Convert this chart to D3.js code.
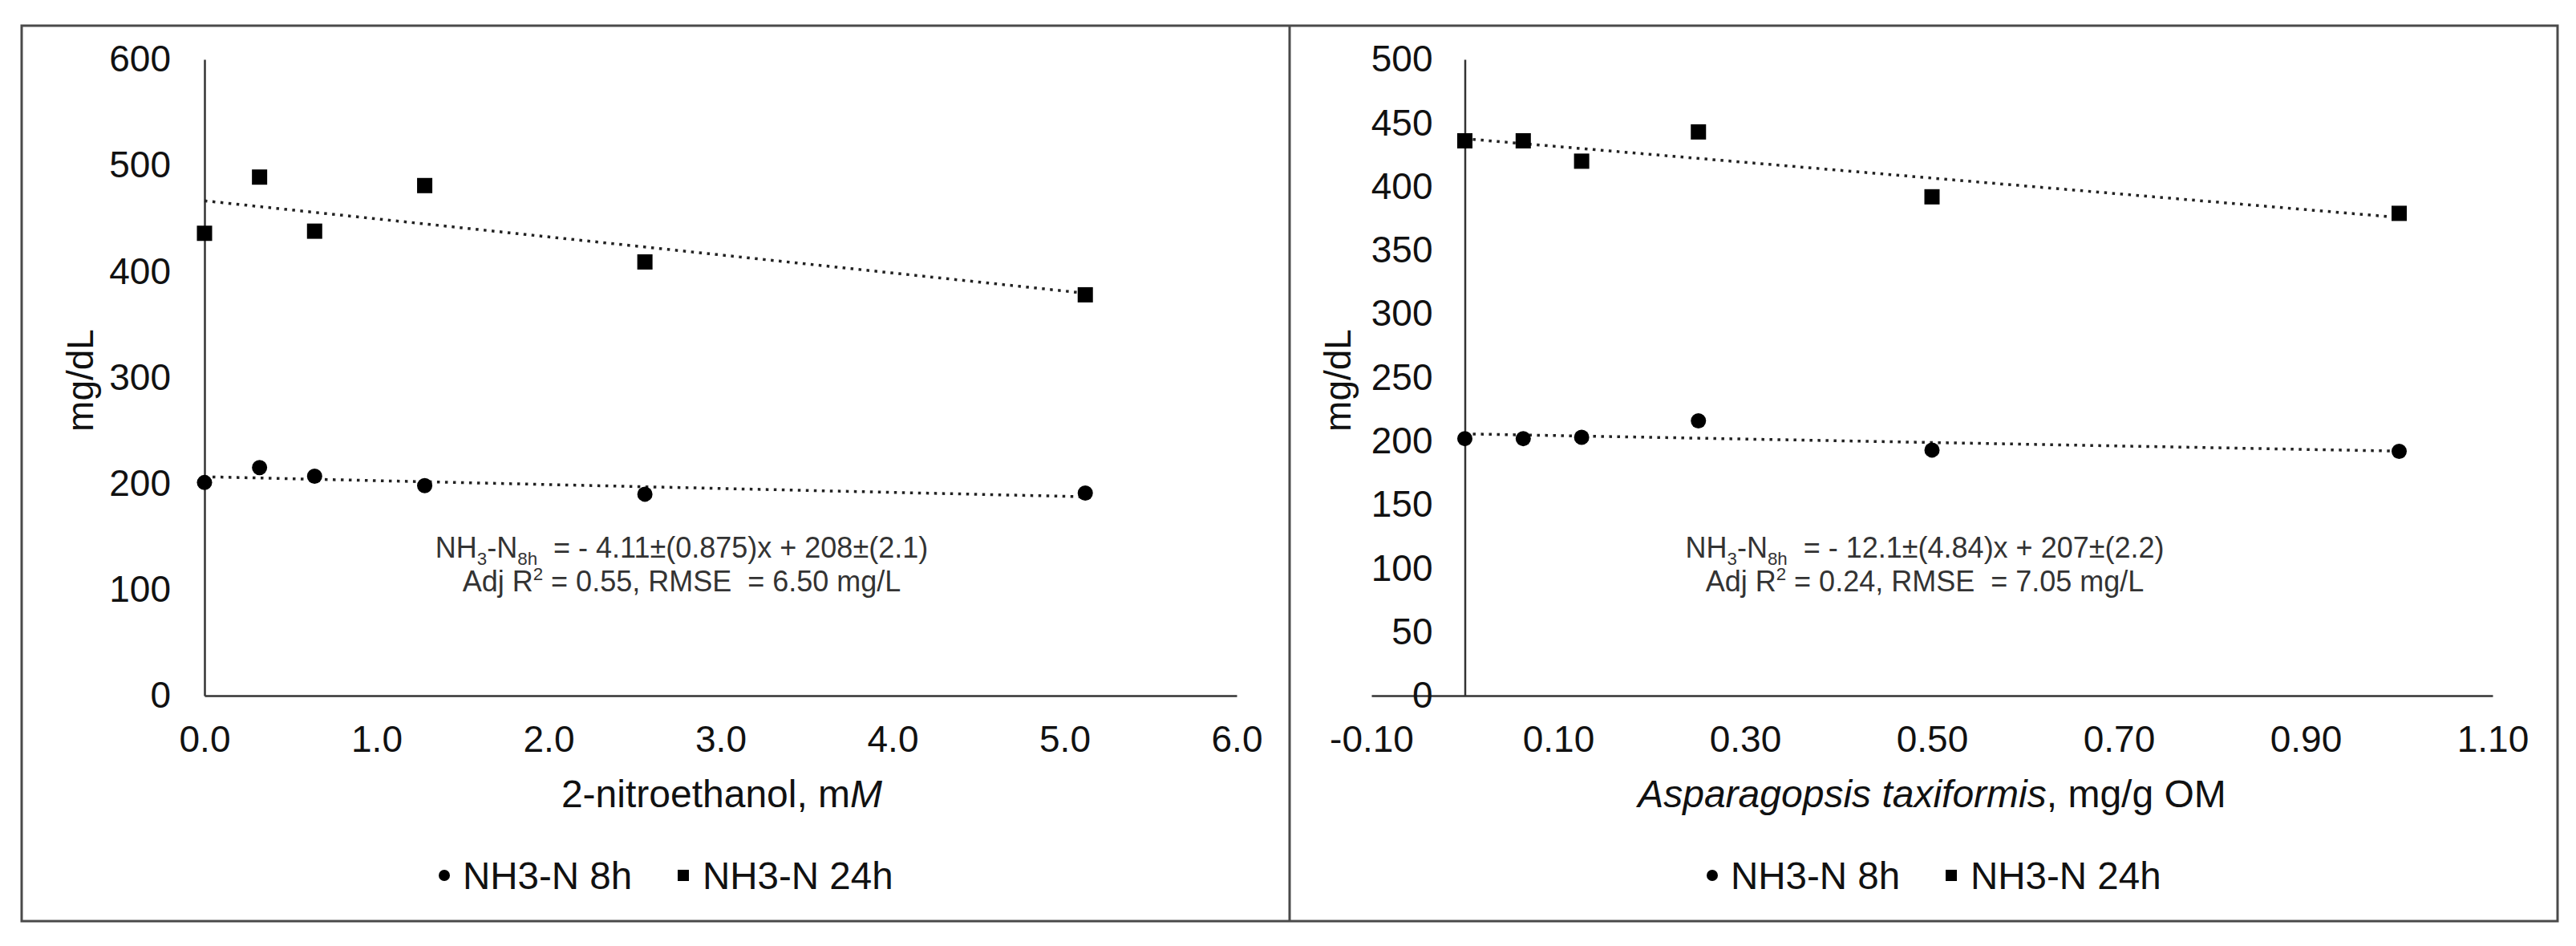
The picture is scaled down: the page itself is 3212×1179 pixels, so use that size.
<!DOCTYPE html>
<html>
<head>
<meta charset="utf-8">
<script src="https://cdn.jsdelivr.net/npm/d3@7"></script>
<style>
  body { margin: 0; background: #fff; }
  text { font-family: "Liberation Sans", Arial, sans-serif; fill: #111; white-space: pre; }
</style>
</head>
<body>
<svg id="chart" width="3212" height="1179"></svg>
<script>
// ---- data ----
// left panel: 2-nitroethanol
const nitroDose = [0, 0.32, 0.64, 1.28, 2.56, 5.12]
const nitro8h = [201, 215, 207, 198, 190, 191]
const nitro24h = [436, 489, 438, 481, 409, 378]
const nitroTicksX = [0, 1, 2, 3, 4, 5, 6]
const nitroTicksY = [0, 100, 200, 300, 400, 500, 600]

// right panel: Asparagopsis taxiformis
const asparaDose = [0, 0.0625, 0.125, 0.25, 0.5, 1.0]
const aspara8h = [202, 202, 203, 216, 193, 192]
const aspara24h = [436, 436, 420, 443, 392, 379]
const asparaTicksX = [-0.1, 0.1, 0.3, 0.5, 0.7, 0.9, 1.1]
const asparaTicksY = [0, 50, 100, 150, 200, 250, 300, 350, 400, 450, 500]

const seriesNames = ["NH3-N 8h", "NH3-N 24h"]
const yTitle = "mg/dL"

const nitroEq = [["NH", ""], ["3", "sub"], ["-N", ""], ["8h", "sub"], ["  = - 4.11±(0.875)x + 208±(2.1)", ""]]
const nitroFit = [["Adj R", ""], ["2", "sup"], [" = 0.55, RMSE  = 6.50 mg/L", ""]]
const asparaEq = [["NH", ""], ["3", "sub"], ["-N", ""], ["8h", "sub"], ["  = - 12.1±(4.84)x + 207±(2.2)", ""]]
const asparaFit = [["Adj R", ""], ["2", "sup"], [" = 0.24, RMSE  = 7.05 mg/L", ""]]

// plain hyphen for negatives, like the spreadsheet labels
const locale = d3.formatLocale({decimal: ".", thousands: ",", grouping: [3], currency: ["", ""], minus: "-"})

const svg = d3.select("#chart")

// outer frames
svg.append("rect")
    .attr("x", 27).attr("y", 32)
    .attr("width", 3189 - 27).attr("height", 1148 - 32)
    .attr("fill", "none").attr("stroke", "#4a4a4a").attr("stroke-width", 3)
svg.append("line")
    .attr("x1", 1608).attr("x2", 1608).attr("y1", 32).attr("y2", 1148)
    .attr("stroke", "#4a4a4a").attr("stroke-width", 3)

function linreg(xs, ys) {
    let mx = d3.mean(xs), my = d3.mean(ys)
    let sxy = d3.sum(xs, (x, i) => (x - mx) * (ys[i] - my))
    let sxx = d3.sum(xs, x => (x - mx) * (x - mx))
    let b = sxy / sxx
    return [my - b * mx, b]
}

function writeRich(g, parts, x, y, size) {
    let t = g.append("text")
        .attr("x", x).attr("y", y)
        .attr("text-anchor", "middle")
        .style("font-size", size + "px")
        .style("fill", "#333")
    parts.forEach((p, i) => {
        let s = t.append("tspan").text(p[0])
        let prev = i > 0 ? parts[i - 1][1] : ""
        let dy = 0
        if (prev == "sub") dy -= 9
        if (prev == "sup") dy += 14
        if (p[1] == "sub") { dy += 9; s.style("font-size", (size * 0.62) + "px") }
        if (p[1] == "sup") { dy -= 14; s.style("font-size", (size * 0.62) + "px") }
        s.attr("dy", dy)
    })
}

function drawPanel(cfg) {
    let g = svg.append("g")
    let x = d3.scaleLinear().domain(cfg.xDomain).range(cfg.xRange)
    let y = d3.scaleLinear().domain(cfg.yDomain).range([867, 74])

    // x axis
    g.append("g")
        .attr("transform", "translate(0,867)")
        .call(d3.axisBottom(x).tickValues(cfg.ticksX).tickFormat(locale.format(cfg.fmtX))
            .tickSize(0).tickSizeOuter(0).tickPadding(37))
    // y axis sits on x = 0
    g.append("g")
        .attr("transform", "translate(" + x(0) + ",0)")
        .call(d3.axisLeft(y).tickValues(cfg.ticksY)
            .tickSize(0).tickSizeOuter(0).tickPadding(cfg.yPad))
    g.selectAll(".domain").attr("stroke", "#333").attr("stroke-width", 2.5)
    g.selectAll(".tick text")
        .style("font-family", "'Liberation Sans', Arial, sans-serif")
        .style("font-size", "46px")
        .attr("fill", "#111")

    // axis titles
    let xt = g.append("text")
        .attr("x", cfg.xTitleX).attr("y", 1006)
        .attr("text-anchor", "middle")
        .style("font-size", "48px")
    cfg.xTitle.forEach(p => {
        xt.append("tspan").text(p[0]).style("font-style", p[1] ? "italic" : "normal")
    })
    g.append("text")
        .attr("transform", "translate(" + cfg.yTitleX + ",474) rotate(-90)")
        .attr("text-anchor", "middle")
        .style("font-size", "46px")
        .text(yTitle)

    // trendlines, fitted to the points
    let line = d3.line().x(d => x(d[0])).y(d => y(d[1]))
    ;[cfg.s8, cfg.s24].forEach(s => {
        let [a, b] = linreg(cfg.dose, s)
        let ext = d3.extent(cfg.dose)
        g.append("path")
            .datum(ext.map(v => [v, a + b * v]))
            .attr("d", line)
            .attr("fill", "none")
            .attr("stroke", "#222")
            .attr("stroke-width", 3.5)
            .attr("stroke-dasharray", "3.5 6.5")
    })

    // markers
    g.append("g").selectAll("circle")
        .data(cfg.dose)
        .enter().append("circle")
        .attr("cx", (d) => x(d))
        .attr("cy", (d, i) => y(cfg.s8[i]))
        .attr("r", 9.5)
        .attr("fill", "#000")
    g.append("g").selectAll("rect")
        .data(cfg.dose)
        .enter().append("rect")
        .attr("x", (d) => x(d) - 9.5)
        .attr("y", (d, i) => y(cfg.s24[i]) - 9.5)
        .attr("width", 19).attr("height", 19)
        .attr("fill", "#000")

    // equation
    writeRich(g, cfg.eq, cfg.eqX, 695, 36)
    writeRich(g, cfg.fit, cfg.eqX, 737, 36)

    // legend
    let lx = cfg.legendX
    g.append("circle").attr("cx", lx).attr("cy", 1091).attr("r", 7).attr("fill", "#000")
    g.append("text").attr("x", lx + 23).attr("y", 1108).style("font-size", "47.5px").text(seriesNames[0])
    g.append("rect").attr("x", lx + 291).attr("y", 1084).attr("width", 14).attr("height", 14).attr("fill", "#000")
    g.append("text").attr("x", lx + 322).attr("y", 1108).style("font-size", "47.5px").text(seriesNames[1])
}

drawPanel({
    xDomain: [0, 6], xRange: [255, 1542],
    yDomain: [0, 600],
    ticksX: nitroTicksX, ticksY: nitroTicksY, fmtX: ".1f", yPad: 42,
    dose: nitroDose, s8: nitro8h, s24: nitro24h,
    xTitle: [["2-nitroethanol, m", false], ["M", true]], xTitleX: 900,
    yTitleX: 116,
    eq: nitroEq, fit: nitroFit, eqX: 850,
    legendX: 554
})

drawPanel({
    xDomain: [-0.1, 1.1], xRange: [1710, 3108],
    yDomain: [0, 500],
    ticksX: asparaTicksX, ticksY: asparaTicksY, fmtX: ".2f", yPad: 40,
    dose: asparaDose, s8: aspara8h, s24: aspara24h,
    xTitle: [["Asparagopsis taxiformis", true], [", mg/g OM", false]], xTitleX: 2409,
    yTitleX: 1684,
    eq: asparaEq, fit: asparaFit, eqX: 2400,
    legendX: 2135
})
</script>
</body>
</html>
